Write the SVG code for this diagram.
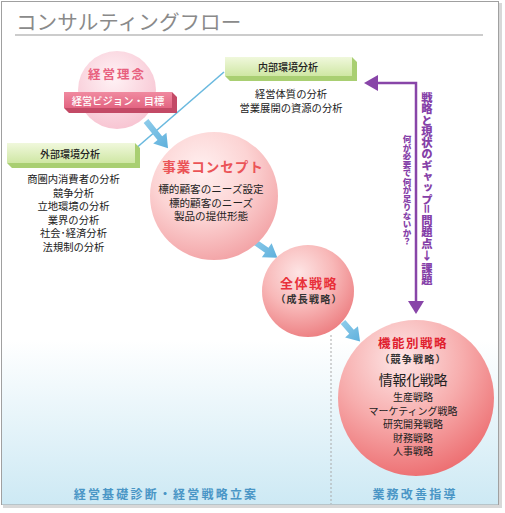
<svg xmlns="http://www.w3.org/2000/svg" width="505" height="513" viewBox="0 0 505 513">
<defs>
<linearGradient id="bg" x1="0" y1="0" x2="0" y2="1">
<stop offset="0" stop-color="#ffffff"/>
<stop offset="1" stop-color="#cde9f4"/>
</linearGradient>
<linearGradient id="green" x1="0" y1="0" x2="0" y2="1">
<stop offset="0" stop-color="#f0f8dc"/>
<stop offset="1" stop-color="#cfe7a4"/>
</linearGradient>
<linearGradient id="pinkband" x1="0" y1="0" x2="0" y2="1">
<stop offset="0" stop-color="#f08aa0"/>
<stop offset="1" stop-color="#e36582"/>
</linearGradient>
<radialGradient id="c1" cx="0.45" cy="0.35" r="0.7">
<stop offset="0" stop-color="#fff2f5"/>
<stop offset="1" stop-color="#f7c2d0"/>
</radialGradient>
<radialGradient id="c2" cx="0.4" cy="0.3" r="0.75">
<stop offset="0" stop-color="#fff0f0"/>
<stop offset="0.5" stop-color="#fcd4d4"/>
<stop offset="1" stop-color="#f2a0a3"/>
</radialGradient>
<radialGradient id="c3" cx="0.4" cy="0.3" r="0.75">
<stop offset="0" stop-color="#fde4e4"/>
<stop offset="0.5" stop-color="#f8b8b8"/>
<stop offset="1" stop-color="#ec7b7e"/>
</radialGradient>
<radialGradient id="c4" cx="0.4" cy="0.25" r="0.8">
<stop offset="0" stop-color="#fde6e6"/>
<stop offset="0.5" stop-color="#f7adad"/>
<stop offset="1" stop-color="#ec6a6d"/>
</radialGradient>
<linearGradient id="blue" x1="0" y1="0" x2="1" y2="0">
<stop offset="0" stop-color="#8ccbea"/>
<stop offset="1" stop-color="#5fb0dc"/>
</linearGradient>
<style>
text{font-family:"Noto Sans CJK JP","Noto Sans",sans-serif;}
.t{font-size:10.3px;fill:#222;text-anchor:middle;}
.hd{font-size:10px;fill:#222;text-anchor:middle;font-weight:500;}
.red{fill:#e53a3e;font-weight:700;text-anchor:middle;}
.sub{font-size:10px;fill:#333;text-anchor:middle;font-weight:700;letter-spacing:1.2px;}
.foot{font-size:12px;fill:#4a96c6;font-weight:700;text-anchor:middle;letter-spacing:2.2px;}
.pv{fill:#8540a8;font-weight:900;writing-mode:vertical-rl;text-orientation:upright;}
.ph{fill:#8540a8;font-weight:900;text-anchor:middle;}
.bev{fill:#a9cf72;}
.barrow{fill:url(#blue);}
</style>
</defs>

<!-- frame -->
<rect x="3" y="3" width="499" height="505" fill="#d8d8d8"/>
<rect x="1.5" y="1.5" width="497" height="503" fill="#ffffff" stroke="#a0a0a0" stroke-width="1"/>
<rect x="2" y="340" width="496" height="164.5" fill="url(#bg)"/>
<line x1="331" y1="335" x2="331" y2="504" stroke="#aaaaaa" stroke-width="1" stroke-dasharray="2,2"/>

<!-- title -->
<text x="16" y="30" style="font-size:20.6px;fill:#8a8a8a;font-weight:400">コンサルティングフロー</text>
<line x1="15" y1="35" x2="483" y2="35" stroke="#999999" stroke-width="1"/>

<!-- connectors -->
<g id="connectors">
<line x1="224" y1="72" x2="134" y2="150" stroke="#6ab9df" stroke-width="1.6"/>
<path class="barrow" d="M0,-3 L22,-3 L22,-8.5 L35,0 L22,8.5 L22,3 L0,3 Z" transform="translate(146,121) rotate(51)"/>
<path class="barrow" d="M0,-3 L18,-3 L18,-8.5 L31,0 L18,8.5 L18,3 L0,3 Z" transform="translate(252,240) rotate(35)"/>
<path class="barrow" d="M0,-3 L13,-3 L13,-8.5 L26,0 L13,8.5 L13,3 L0,3 Z" transform="translate(343,322) rotate(49)"/>
<polyline points="378,83 416,83 416,302" fill="none" stroke="#8845a8" stroke-width="2.5"/>
<polygon points="364,83 378,75 378,91" fill="#8845a8"/>
<polygon points="408,301 424,301 416,314" fill="#8845a8"/>
</g>

<!-- gap label -->
<g id="gap-label">
<text class="pv" x="427" y="92" style="font-size:11.3px">戦略と現状のギャップ</text>
<text class="ph" x="427" y="209" transform="rotate(90 427 209)" style="font-size:11.3px;dominant-baseline:central">＝</text>
<text class="pv" x="427" y="215" style="font-size:11.3px">問題点</text>
<text class="ph" x="427" y="259.5" style="font-size:11.3px">↓</text>
<text class="pv" x="427" y="263" style="font-size:11.3px">課題</text>
<text class="pv" x="407" y="135" style="font-size:8.5px">何が必要で何が足りないか？</text>
</g>

<!-- 経営理念 -->
<g id="node-rinen">
<circle cx="117" cy="90" r="39" fill="url(#c1)"/>
<text x="117" y="79" class="red" style="font-size:12.5px;fill:#e8607e;letter-spacing:2px">経営理念</text>
<polygon points="64,108 172,108 172,92 177,97 177,113 69,113" fill="#c34a66"/>
<rect x="64" y="92" width="108" height="16" fill="url(#pinkband)"/>
<text x="118" y="104.5" style="font-size:10.3px;fill:#ffffff;text-anchor:middle;font-weight:500">経営ビジョン・目標</text>
</g>

<!-- 内部環境分析 -->
<g id="node-naibu">
<polygon class="bev" points="225,76 352,76 352,57 357,62 357,81 230,81"/>
<rect x="225" y="57" width="127" height="19" fill="url(#green)"/>
<text x="288" y="71" class="hd">内部環境分析</text>
<text x="291" y="98" class="t">経営体質の分析</text>
<text x="291" y="111.5" class="t">営業展開の資源の分析</text>
</g>

<!-- 外部環境分析 -->
<g id="node-gaibu">
<polygon class="bev" points="7,163 135,163 135,143 140,148 140,168 12,168"/>
<rect x="7" y="143" width="128" height="20" fill="url(#green)"/>
<text x="70" y="158" class="hd">外部環境分析</text>
<text x="73.5" y="183" class="t">商圏内消費者の分析</text>
<text x="73.5" y="196.5" class="t">競争分析</text>
<text x="73.5" y="210" class="t">立地環境の分析</text>
<text x="73.5" y="223.5" class="t">業界の分析</text>
<text x="73.5" y="237" class="t">社会･経済分析</text>
<text x="73.5" y="250.5" class="t">法規制の分析</text>
</g>

<!-- 事業コンセプト -->
<g id="node-concept">
<circle cx="214" cy="196" r="64" fill="url(#c2)"/>
<text x="213" y="172" class="red" style="font-size:13.5px;fill:#eb5457;letter-spacing:1px">事業コンセプト</text>
<text x="211" y="193" class="t" style="font-size:10.6px">標的顧客のニーズ設定</text>
<text x="211" y="206.5" class="t" style="font-size:10.6px">標的顧客のニーズ</text>
<text x="211" y="220" class="t" style="font-size:10.6px">製品の提供形態</text>
</g>

<!-- 全体戦略 -->
<g id="node-zentai">
<circle cx="308" cy="291" r="46" fill="url(#c3)"/>
<text x="309" y="288" class="red" style="font-size:13px;fill:#e8303a;letter-spacing:1.5px">全体戦略</text>
<text x="309" y="303" class="sub">（成長戦略）</text>
</g>

<!-- 機能別戦略 -->
<g id="node-kinou">
<circle cx="416" cy="398" r="78" fill="url(#c4)"/>
<text x="413" y="348" class="red" style="font-size:12.5px;fill:#e0202e;letter-spacing:1.5px">機能別戦略</text>
<text x="413" y="363" class="sub">（競争戦略）</text>
<text x="413" y="385" class="t" style="font-size:14px;letter-spacing:-0.3px">情報化戦略</text>
<text x="413" y="401" class="t" style="font-size:10px">生産戦略</text>
<text x="413" y="414.5" class="t" style="font-size:10px">マーケティング戦略</text>
<text x="413" y="428" class="t" style="font-size:10px">研究開発戦略</text>
<text x="413" y="441.5" class="t" style="font-size:10px">財務戦略</text>
<text x="413" y="455" class="t" style="font-size:10px">人事戦略</text>
</g>

<!-- footer labels -->
<text x="166" y="499" class="foot">経営基礎診断・経営戦略立案</text>
<text x="415" y="499" class="foot">業務改善指導</text>
</svg>
